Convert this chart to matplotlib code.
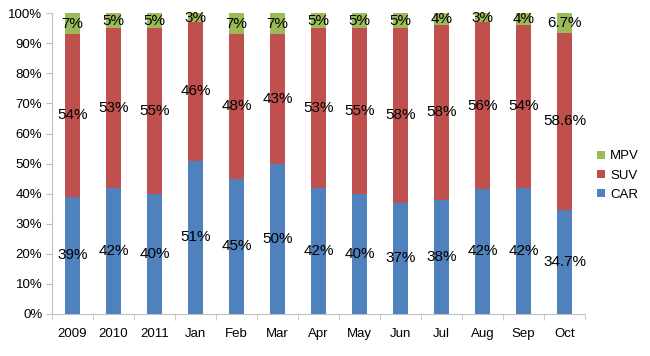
import numpy as np
import matplotlib
matplotlib.use("Agg")
import matplotlib.pyplot as plt
from matplotlib.ticker import FuncFormatter

plt.rcParams['font.family'] = ['Liberation Sans', 'DejaVu Sans']

# data
categories = ['2009', '2010', '2011', 'Jan', 'Feb', 'Mar', 'Apr', 'May', 'Jun', 'Jul', 'Aug', 'Sep', 'Oct']
car = [39, 42, 40, 51, 45, 50, 42, 40, 37, 38, 42, 42, 34.7]
suv = [54, 53, 55, 46, 48, 43, 53, 55, 58, 58, 56, 54, 58.6]
mpv = [7, 5, 5, 3, 7, 7, 5, 5, 5, 4, 3, 4, 6.7]
car_labels = ['39%', '42%', '40%', '51%', '45%', '50%', '42%', '40%', '37%', '38%', '42%', '42%', '34.7%']
suv_labels = ['54%', '53%', '55%', '46%', '48%', '43%', '53%', '55%', '58%', '58%', '56%', '54%', '58.6%']
mpv_labels = ['7%', '5%', '5%', '3%', '7%', '7%', '5%', '5%', '5%', '4%', '3%', '4%', '6.7%']

# 100% stacked -> normalise each column
tot = np.array(car) + np.array(suv) + np.array(mpv)
car_p = np.array(car) / tot * 100
suv_p = np.array(suv) / tot * 100
mpv_p = np.array(mpv) / tot * 100

fig = plt.figure(figsize=(6.5, 3.56), dpi=100)
ax = fig.add_axes([0.08, 0.118, 0.82, 0.845])
x = np.arange(len(categories))
w = 0.39

b1 = ax.bar(x, car_p, w, color='#4F81BD', label='CAR')
b2 = ax.bar(x, suv_p, w, bottom=car_p, color='#C0504D', label='SUV')
b3 = ax.bar(x, mpv_p, w, bottom=car_p + suv_p, color='#9BBB59', label='MPV')

for bars, labs in [(b1, car_labels), (b2, suv_labels), (b3, mpv_labels)]:
    ax.bar_label(bars, labels=labs, label_type='center', fontsize=11, color='black')

ax.set_xlim(-0.5, len(categories) - 0.5)
ax.set_ylim(0, 100)
ax.set_yticks(np.arange(0, 101, 10))
ax.yaxis.set_major_formatter(FuncFormatter(lambda v, p: '%d%%' % v))
ax.set_xticks(x)
ax.set_xticklabels(categories)
ax.set_xticks(np.arange(-0.5, len(categories), 1), minor=True)
ax.tick_params(axis='x', which='major', length=0, labelsize=9.5, pad=10)
ax.tick_params(axis='x', which='minor', length=4, color='#BFBFBF', direction='out')
ax.tick_params(axis='y', length=4, color='#BFBFBF', labelsize=9.5, pad=3)

for s in ['top', 'right']:
    ax.spines[s].set_visible(False)
for s in ['left', 'bottom']:
    ax.spines[s].set_color('#BFBFBF')

h, l = ax.get_legend_handles_labels()
ax.legend(h[::-1], l[::-1], loc='center left', bbox_to_anchor=(1.0, 0.46), frameon=False,
          fontsize=9.5, handlelength=0.6, handleheight=0.6, handletextpad=0.4, labelspacing=0.55)

fig.savefig('out.png', dpi=100)
